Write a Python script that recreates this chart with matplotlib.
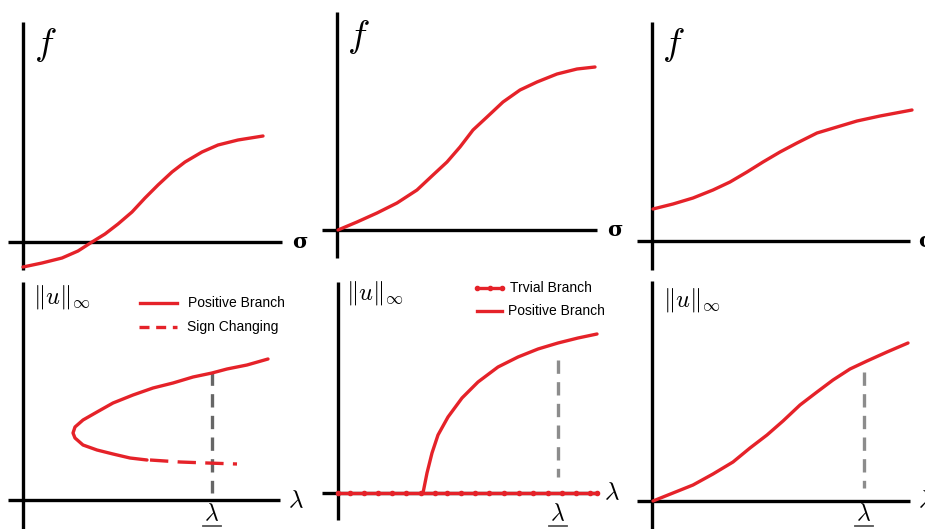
import matplotlib.pyplot as plt

plt.rcParams['mathtext.fontset'] = 'cm'

RED = '#e52229'
BLACK = 'black'

# --- curves (pixel coords, y downwards) ---
# top row: f(sigma)
f1_x = [23, 42, 62, 78, 92, 105, 118, 132, 145, 158, 172, 185, 202, 218, 238, 263]
f1_y = [267, 263, 258, 251, 242, 234, 224, 212, 198, 185, 172, 162, 152, 145, 140, 136]

f2_x = [338, 357, 377, 397, 417, 433, 447, 460, 473, 487, 503, 520, 537, 557, 577, 595]
f2_y = [230, 222, 213, 203, 190, 175, 162, 147, 130, 117, 102, 90, 82, 74, 69, 67]

f3_x = [653, 673, 693, 713, 730, 747, 763, 780, 797, 817, 837, 857, 880, 912]
f3_y = [209, 204, 198, 190, 182, 172, 162, 152, 143, 133, 127, 121, 116, 110]

# bottom row: bifurcation diagrams
b1_pos_x = [268, 247, 227, 212, 193, 173, 153, 133, 113, 97, 83, 75, 73, 75,
            83, 97, 113, 130, 147]
b1_pos_y = [359, 365, 369, 373, 377, 383, 388, 395, 403, 412, 420, 427, 433, 438,
            445, 450, 454, 458, 460]
b1_sign_x = [150, 180, 207, 237]
b1_sign_y = [460, 462, 463, 464]

b2_triv_x = [338, 350, 364, 378, 392, 406, 421, 435, 447, 461, 475, 489, 504,
             519, 533, 548, 562, 576, 590, 597]
b2_triv_y = [493] * len(b2_triv_x)
b2_pos_x = [423, 427, 432, 438, 448, 462, 478, 498, 518, 538, 558, 578, 597]
b2_pos_y = [493, 473, 453, 435, 417, 398, 382, 367, 357, 349, 343, 338, 334]

b3_x = [653, 673, 693, 713, 733, 750, 767, 783, 800, 817, 833, 850, 867, 887, 908]
b3_y = [501, 493, 485, 474, 462, 448, 435, 421, 405, 392, 380, 369, 361, 352, 343]

# coordinate axes of each sketch: (x0, x1, y_h), (x_v, y0, y1)
h_axes = [(8, 282, 242), (322, 597, 230), (637, 910, 241),
          (8, 280, 500), (322, 598, 493), (637, 910, 501)]
v_axes = [(23, 22, 270), (337, 12, 258), (652, 22, 270),
          (23, 282, 529), (338, 282, 520), (652, 281, 529)]

# dashed lambda markers: x, y_top, y_bottom
lam_x = [212, 558, 864]
lam_top = [372, 360, 372]
lam_bot = [493, 477, 488]
lam_col = ['#666666', '#8c8c8c', '#8c8c8c']

fig = plt.figure(figsize=(9.25, 5.29), dpi=100)
ax = fig.add_axes([0, 0, 1, 1])
ax.set_xlim(0, 925)
ax.set_ylim(529, 0)
ax.axis('off')

for x0, x1, y in h_axes:
    ax.plot([x0, x1], [y, y], color=BLACK, lw=2.4, solid_capstyle='butt')
for x, y0, y1 in v_axes:
    ax.plot([x, x], [y0, y1], color=BLACK, lw=2.4, solid_capstyle='butt')

for xs, ys in [(f1_x, f1_y), (f2_x, f2_y), (f3_x, f3_y), (b3_x, b3_y)]:
    ax.plot(xs, ys, color=RED, lw=2.4, solid_joinstyle='round', solid_capstyle='round')

for x, yt, yb, c in zip(lam_x, lam_top, lam_bot, lam_col):
    ax.plot([x, x], [yt, yb], color=c, lw=2.4, ls=(0, (4, 2.5)))
    ax.text(x, 513, r'$\lambda$', fontsize=17, ha='center', va='center')
    ax.plot([x - 9, x + 9], [526, 526], color='#555555', lw=1.3)

# panel 4
ax.plot(b1_pos_x, b1_pos_y, color=RED, lw=2.4, solid_joinstyle='round', solid_capstyle='round')
ax.plot(b1_sign_x, b1_sign_y, color=RED, lw=2.4, ls=(0, (5.5, 2.8)))
# panel 5
ax.plot(b2_triv_x, b2_triv_y, color=RED, lw=2.4, marker='o', ms=3)
ax.plot(b2_pos_x, b2_pos_y, color=RED, lw=2.4, solid_joinstyle='round', solid_capstyle='round')

# axis letters
for x, y in [(45, 45), (358, 37), (673, 45)]:
    ax.text(x, y, r'$f$', fontsize=27, ha='center', va='center')
for x, y in [(300, 242), (615, 230), (918, 241)]:
    ax.text(x, y, 'σ', fontsize=15, fontweight='bold', family='DejaVu Serif',
            ha='left' if x > 900 else 'center', va='center')
for x, y in [(296, 500), (612, 492), (918, 500)]:
    ax.text(x, y, r'$\lambda$', fontsize=18, ha='left' if x > 900 else 'center', va='center')
for x, y in [(33, 297), (346, 293), (663, 300)]:
    ax.text(x, y, r'$\|u\|_{\infty}$', fontsize=17.5, ha='left', va='center')

# legends
leg_font = dict(fontsize=10, family='Liberation Sans', va='center', ha='left')
ax.plot([140, 177], [303, 303], color=RED, lw=2.4)
ax.text(188, 303, 'Positive Branch', **leg_font)
ax.plot([139, 177], [327, 327], color=RED, lw=2.4, ls=(0, (3, 2)))
ax.text(187, 327, 'Sign Changing', **leg_font)

ax.plot([477, 502], [288, 288], color=RED, lw=2.4, marker='o', ms=3)
ax.plot([489.5], [288], color=RED, marker='o', ms=3)
ax.text(510, 288, 'Trvial Branch', **leg_font)
ax.plot([477, 502], [311, 311], color=RED, lw=2.4)
ax.text(508, 311, 'Positive Branch', **leg_font)

fig.savefig('out.png', dpi=100)
